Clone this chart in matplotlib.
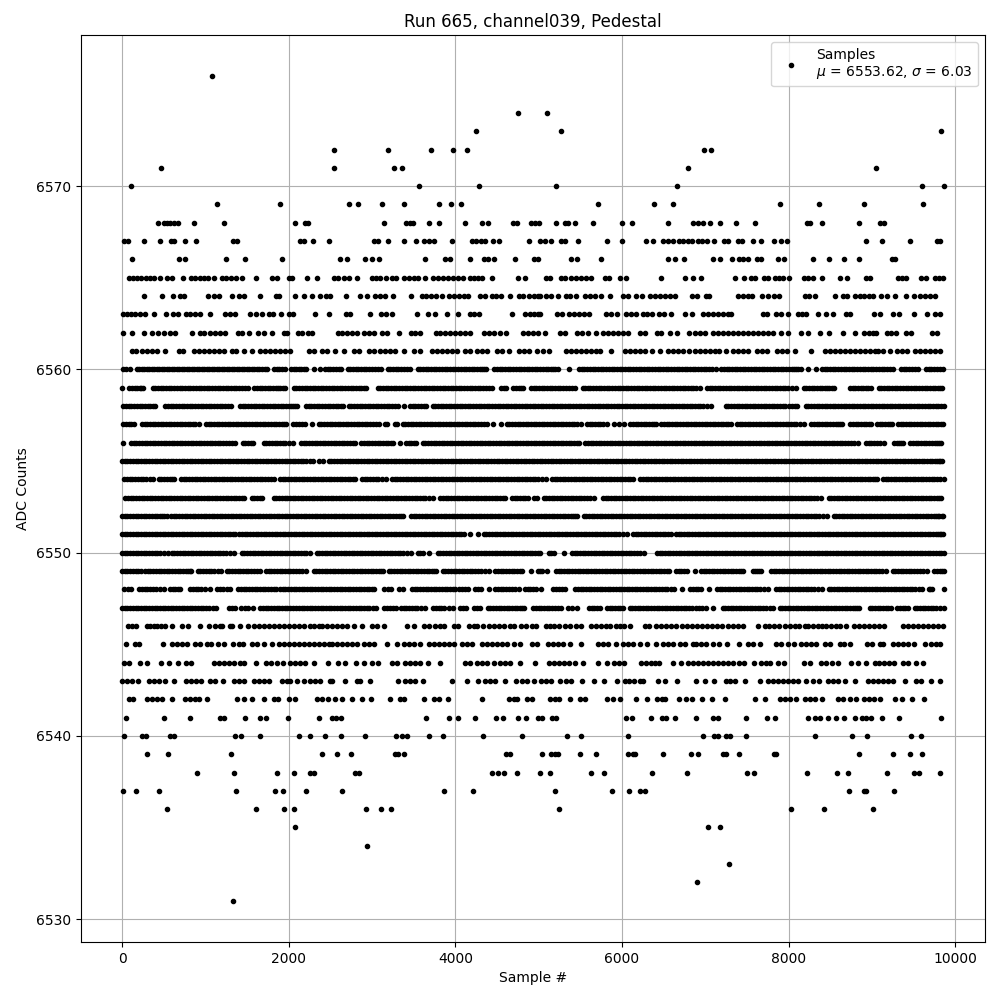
import matplotlib
matplotlib.use("Agg")
import matplotlib.pyplot as plt

x_6576 = [1076]
x_6574 = [4748, 5100]
x_6573 = [4244, 5268, 9828]
x_6572 = [2540, 3188, 3704, 3968, 4136, 6984, 7068]
x_6571 = [464, 2540, 3260, 3356, 6792, 9048]
x_6570 = [104, 3560, 4280, 5208, 6660, 9600, 9864]
x_6569 = [1136, 1892, 2720, 2828, 3116, 3380, 3804, 3944, 4064, 5712, 6384, 6612, 7896, 8364, 8904, 9612]
x_6568 = [428, 500, 540, 580, 628, 676, 860, 1220, 2076, 2192, 2232, 3140, 3404, 3452, 3492, 3680, 3804, 4112, 4316, 4388, 4688, 4736, 4904, 4952, 5004, 5208, 5316, 5352, 5436, 5652, 6000, 6120, 6552, 6852, 6912, 6972, 7056, 7176, 7368, 7596, 8224, 8252, 8400, 8844, 9092, 9140]
x_6567 = [20, 68, 260, 452, 588, 628, 752, 884, 1328, 1376, 2140, 2188, 2288, 2480, 3028, 3076, 3188, 3380, 3524, 3620, 3680, 3740, 3956, 4200, 4248, 4308, 4360, 4456, 4528, 4880, 5020, 5076, 5148, 5268, 5316, 5472, 5820, 6000, 6288, 6372, 6492, 6552, 6612, 6684, 6732, 6792, 6840, 6912, 6960, 7020, 7104, 7224, 7272, 7392, 7440, 7572, 7668, 7824, 7908, 7980, 8928, 9120, 9456, 9780, 9816]
x_6566 = [116, 680, 752, 1244, 1472, 1916, 2612, 2700, 2912, 2996, 3080, 3632, 3872, 3932, 4172, 4340, 4388, 4460, 4712, 4940, 4988, 5388, 5460, 5748, 6552, 6636, 6744, 7092, 7176, 7320, 7404, 7452, 7512, 7620, 7668, 7872, 7944, 8292, 8484, 8664, 8844, 9240, 9272]
x_6565 = [80, 128, 180, 228, 288, 340, 388, 452, 540, 596, 728, 824, 872, 940, 988, 1028, 1108, 1196, 1244, 1304, 1364, 1436, 1612, 1800, 1856, 2000, 2036, 2216, 2336, 2540, 2588, 2660, 2720, 2816, 2996, 3044, 3092, 3164, 3236, 3284, 3380, 3440, 3500, 3548, 3632, 3728, 3788, 3848, 3908, 3968, 4028, 4092, 4172, 4220, 4268, 4316, 4436, 4748, 4832, 5092, 5140, 5268, 5316, 5388, 5452, 5512, 5572, 5632, 5796, 5844, 5976, 6048, 6468, 6756, 6852, 6948, 7356, 7464, 7548, 7596, 7704, 7752, 7836, 7884, 7932, 8004, 8184, 8232, 8292, 8400, 8616, 8700, 8928, 8972, 9312, 9364, 9412, 9588, 9644, 9756, 9804, 9852]
x_6564 = [260, 476, 612, 700, 748, 1028, 1100, 1160, 1316, 1400, 1460, 1652, 1848, 1888, 2072, 2184, 2280, 2372, 2452, 2500, 2684, 2852, 2940, 3036, 3092, 3152, 3248, 3468, 3596, 3644, 3708, 3764, 3836, 3920, 3980, 4040, 4100, 4152, 4300, 4360, 4440, 4488, 4544, 4652, 4760, 4812, 4880, 4940, 4988, 5012, 5092, 5152, 5232, 5324, 5380, 5448, 5552, 5612, 5672, 5752, 5856, 6012, 6072, 6164, 6236, 6332, 6392, 6452, 6512, 6572, 6632, 6840, 6900, 7004, 7044, 7392, 7452, 7512, 7564, 7680, 7752, 7824, 7884, 8200, 8244, 8316, 8556, 8652, 8700, 8792, 8852, 8904, 8964, 9012, 9108, 9180, 9276, 9404, 9504, 9572, 9632, 9692, 9752]
x_6563 = [12, 60, 108, 160, 220, 280, 380, 524, 612, 672, 764, 820, 880, 932, 1052, 1240, 1300, 1360, 1540, 1612, 1680, 1760, 1808, 1908, 2000, 2048, 2312, 2480, 2692, 2740, 2972, 3108, 3164, 3240, 3544, 3668, 3760, 3900, 4028, 4172, 4228, 4280, 4676, 4832, 4892, 4940, 4988, 5012, 5220, 5280, 5364, 5420, 5484, 5544, 5604, 5808, 5872, 5940, 6044, 6112, 6172, 6252, 6300, 6360, 6444, 6500, 6588, 6756, 6840, 6972, 7032, 7092, 7152, 7212, 7272, 7312, 7692, 7740, 7848, 7908, 7992, 8112, 8160, 8208, 8352, 8448, 8532, 8688, 8736, 9024, 9092, 9252, 9324, 9504, 9660, 9756, 9816]
x_6562 = [8, 120, 260, 360, 428, 500, 572, 636, 836, 932, 988, 1052, 1120, 1180, 1240, 1396, 1436, 1520, 1628, 1700, 1800, 1940, 1980, 2108, 2156, 2228, 2280, 2588, 2644, 2700, 2760, 2820, 2900, 2960, 3020, 3120, 3180, 3320, 3468, 3520, 3580, 3764, 3820, 3880, 3940, 4000, 4060, 4120, 4180, 4340, 4400, 4460, 4540, 4612, 4812, 4876, 4932, 4988, 5076, 5260, 5312, 5460, 5520, 5596, 5688, 5772, 5832, 5892, 5952, 6012, 6072, 6216, 6280, 6420, 6472, 6576, 6660, 6804, 6872, 6932, 6992, 7092, 7152, 7212, 7272, 7332, 7392, 7452, 7512, 7572, 7632, 7692, 7752, 7812, 7908, 7992, 8152, 8232, 8372, 8484, 8652, 8796, 8904, 8964, 9012, 9052, 9180, 9232, 9284, 9404, 9464, 9720, 9780]
x_6561 = [120, 168, 240, 300, 360, 420, 516, 680, 728, 860, 920, 980, 1040, 1100, 1160, 1220, 1320, 1368, 1460, 1556, 1652, 1720, 1772, 1840, 1900, 1960, 2020, 2240, 2300, 2400, 2460, 2560, 2660, 2780, 2840, 2960, 3020, 3100, 3160, 3220, 3280, 3380, 3500, 3580, 3720, 3780, 3840, 3900, 3960, 4020, 4120, 4180, 4260, 4320, 4380, 4500, 4560, 4640, 4760, 4820, 4880, 4980, 5052, 5124, 5332, 5392, 5452, 5512, 5572, 5632, 5692, 5740, 5868, 6032, 6092, 6152, 6212, 6272, 6360, 6456, 6552, 6612, 6672, 6732, 6804, 6872, 6932, 6992, 7052, 7112, 7164, 7248, 7332, 7392, 7452, 7512, 7620, 7680, 7740, 7860, 7920, 7980, 8076, 8268, 8436, 8492, 8552, 8612, 8672, 8732, 8792, 8852, 8912, 8972, 9032, 9072, 9132, 9216, 9300, 9360, 9420, 9516, 9572, 9632, 9692, 9752, 9812]

x_6560 = [16, 92, 180, 236, 300, 356, 420, 476, 540, 596, 660, 716, 780, 836, 900, 956, 1020, 1076, 1140, 1196, 1260, 1316, 1380, 1436, 1500, 1556, 1620, 1676, 1744, 1824, 1888, 1952, 2028, 2090, 2150, 2212, 2300, 2372, 2436, 2500, 2566, 2632, 2708, 2770, 2836, 2900, 2966, 3040, 3112, 3188, 3250, 3316, 3380, 3452, 3548, 3610, 3676, 3740, 3806, 3870, 3936, 4000, 4066, 4130, 4196, 4260, 4316, 4372, 4468, 4530, 4596, 4660, 4726, 4790, 4856, 4920, 4986, 5050, 5116, 5170, 5232, 5364, 5488, 5550, 5616, 5680, 5746, 5810, 5876, 5940, 6006, 6070, 6136, 6200, 6266, 6330, 6396, 6460, 6526, 6590, 6656, 6720, 6786, 6850, 6916, 6980, 7046, 7124, 7192, 7256, 7320, 7386, 7450, 7516, 7580, 7646, 7710, 7776, 7840, 7906, 7970, 8036, 8090, 8144, 8232, 8324, 8400, 8466, 8530, 8596, 8660, 8726, 8790, 8856, 8920, 8986, 9050, 9116, 9180, 9256, 9348, 9410, 9480, 9552, 9648, 9712, 9780, 9856]
x_6560_more = [50, 208, 268, 328, 388, 448, 508, 568, 628, 688, 748, 808, 868, 928, 988, 1048, 1108, 1168, 1228, 1288, 1348, 1408, 1468, 1528, 1588, 1648, 1710, 1856, 1920, 2060, 2120, 2180, 2468, 2532, 2600, 2738, 2802, 2868, 2932, 3004, 3076, 3220, 3284, 3348, 3416, 3580, 3642, 3708, 3772, 3838, 3902, 3968, 4032, 4098, 4162, 4228, 4290, 4344, 4498, 4562, 4628, 4692, 4758, 4822, 4888, 4952, 5018, 5084, 5144, 5200, 5518, 5582, 5648, 5712, 5778, 5842, 5908, 5972, 6038, 6102, 6168, 6232, 6298, 6362, 6428, 6492, 6558, 6622, 6688, 6752, 6818, 6882, 6948, 7012, 7084, 7224, 7288, 7352, 7418, 7482, 7548, 7612, 7678, 7742, 7808, 7872, 7938, 8002, 8062, 8116, 8432, 8498, 8562, 8628, 8692, 8758, 8822, 8888, 8952, 9018, 9082, 9148, 9216, 9380, 9444, 9516, 9680, 9746, 9818]
x_6559 = [4, 88, 150, 210, 252, 368, 430, 496, 560, 626, 690, 756, 820, 886, 950, 1016, 1080, 1146, 1210, 1276, 1340, 1406, 1470, 1512, 1588, 1650, 1716, 1780, 1846, 1900, 1952, 2060, 2124, 2190, 2254, 2320, 2384, 2450, 2514, 2580, 2644, 2710, 2774, 2840, 2932, 3068, 3130, 3196, 3260, 3326, 3390, 3456, 3520, 3586, 3650, 3716, 3780, 3846, 3910, 3976, 4040, 4106, 4170, 4236, 4300, 4366, 4440, 4548, 4612, 4696, 4760, 4812, 4908, 4970, 5036, 5100, 5166, 5230, 5296, 5360, 5432, 5528, 5590, 5656, 5720, 5786, 5850, 5916, 5980, 6046, 6110, 6176, 6240, 6306, 6370, 6436, 6500, 6566, 6630, 6696, 6760, 6826, 6892, 6932, 7020, 7084, 7150, 7214, 7280, 7344, 7410, 7474, 7540, 7604, 7670, 7734, 7800, 7864, 7930, 7994, 8084, 8180, 8244, 8310, 8374, 8440, 8490, 8544, 8740, 8800, 8866, 8930, 8984, 9080, 9144, 9210, 9274, 9340, 9404, 9470, 9534, 9600, 9664, 9730, 9794, 9844]
x_6559_more = [120, 180, 232, 400, 462, 528, 592, 658, 722, 788, 852, 918, 982, 1048, 1112, 1178, 1242, 1308, 1372, 1438, 1620, 1682, 1748, 1812, 1872, 1926, 2092, 2156, 2222, 2286, 2352, 2416, 2482, 2546, 2612, 2676, 2742, 2806, 2870, 2904, 3100, 3162, 3228, 3292, 3358, 3422, 3488, 3552, 3618, 3682, 3748, 3812, 3878, 3942, 4008, 4072, 4138, 4202, 4268, 4332, 4402, 4580, 4728, 4786, 4940, 5002, 5068, 5132, 5198, 5262, 5328, 5396, 5558, 5622, 5688, 5752, 5818, 5882, 5948, 6012, 6078, 6142, 6208, 6272, 6338, 6402, 6468, 6532, 6598, 6662, 6728, 6792, 6858, 7052, 7116, 7182, 7246, 7312, 7376, 7442, 7506, 7572, 7636, 7702, 7766, 7832, 7896, 7962, 8040, 8212, 8276, 8342, 8406, 8464, 8516, 8770, 8832, 8898, 8956, 9112, 9176, 9242, 9306, 9372, 9436, 9502, 9566, 9632, 9696, 9762, 9820]
x_6558 = [16, 80, 146, 210, 276, 340, 400, 520, 584, 650, 714, 780, 844, 910, 974, 1040, 1104, 1170, 1234, 1304, 1416, 1480, 1546, 1610, 1676, 1740, 1806, 1870, 1936, 2000, 2050, 2104, 2208, 2270, 2336, 2400, 2466, 2530, 2596, 2652, 2720, 2784, 2850, 2914, 2980, 3044, 3110, 3174, 3240, 3312, 3380, 3456, 3520, 3590, 3652, 3728, 3790, 3856, 3920, 3986, 4050, 4116, 4180, 4246, 4310, 4376, 4440, 4506, 4570, 4636, 4700, 4766, 4830, 4896, 4960, 5026, 5090, 5156, 5220, 5286, 5350, 5416, 5480, 5546, 5610, 5676, 5740, 5806, 5870, 5936, 6000, 6066, 6130, 6196, 6260, 6326, 6390, 6456, 6520, 6586, 6650, 6716, 6780, 6846, 6910, 6976, 7064, 7248, 7310, 7376, 7440, 7506, 7570, 7636, 7700, 7766, 7830, 7896, 7960, 8040, 8104, 8208, 8270, 8336, 8400, 8466, 8530, 8596, 8660, 8726, 8790, 8856, 8920, 8986, 9050, 9116, 9180, 9246, 9310, 9376, 9440, 9506, 9570, 9636, 9700, 9766, 9830, 9864]
x_6558_more = [48, 112, 178, 242, 308, 370, 552, 616, 682, 746, 812, 876, 942, 1006, 1072, 1136, 1202, 1268, 1448, 1512, 1578, 1642, 1708, 1772, 1838, 1902, 1968, 2024, 2076, 2238, 2302, 2368, 2432, 2498, 2562, 2624, 2752, 2816, 2882, 2946, 3012, 3076, 3142, 3206, 3276, 3488, 3554, 3620, 3760, 3822, 3888, 3952, 4018, 4082, 4148, 4212, 4278, 4342, 4408, 4472, 4538, 4602, 4668, 4732, 4798, 4862, 4928, 4992, 5058, 5122, 5188, 5252, 5318, 5382, 5448, 5512, 5578, 5642, 5708, 5772, 5838, 5902, 5968, 6032, 6098, 6162, 6228, 6292, 6358, 6422, 6488, 6552, 6618, 6682, 6748, 6812, 6878, 6942, 7020, 7278, 7342, 7408, 7472, 7538, 7602, 7668, 7732, 7798, 7862, 7928, 8000, 8072, 8238, 8302, 8368, 8432, 8498, 8562, 8628, 8692, 8758, 8822, 8888, 8952, 9018, 9082, 9148, 9212, 9278, 9342, 9408, 9472, 9538, 9602, 9668, 9732, 9798]
x_6557 = [16, 80, 144, 240, 300, 366, 430, 496, 560, 626, 690, 756, 820, 880, 920, 1008, 1070, 1136, 1200, 1266, 1330, 1396, 1460, 1526, 1590, 1656, 1720, 1786, 1850, 1916, 1964, 2048, 2124, 2200, 2276, 2360, 2424, 2490, 2554, 2620, 2684, 2750, 2814, 2880, 2944, 3010, 3080, 3150, 3180, 3276, 3300, 3368, 3430, 3496, 3560, 3626, 3690, 3756, 3820, 3886, 3950, 3984, 4048, 4110, 4176, 4240, 4306, 4384, 4456, 4544, 4616, 4680, 4746, 4810, 4876, 4940, 5006, 5070, 5136, 5200, 5266, 5330, 5396, 5460, 5504, 5580, 5644, 5710, 5774, 5824, 5908, 5964, 6020, 6100, 6164, 6230, 6294, 6360, 6404, 6472, 6536, 6602, 6666, 6732, 6796, 6862, 6926, 6992, 7056, 7122, 7186, 7252, 7304, 7380, 7444, 7510, 7574, 7640, 7704, 7770, 7834, 7900, 7964, 8030, 8094, 8184, 8272, 8336, 8402, 8466, 8532, 8596, 8644, 8740, 8804, 8870, 8934, 8984, 9060, 9124, 9190, 9244, 9312, 9376, 9442, 9506, 9572, 9636, 9702, 9766, 9832, 9856]
x_6557_more = [48, 112, 270, 332, 398, 462, 528, 592, 658, 722, 788, 850, 1040, 1102, 1168, 1232, 1298, 1362, 1428, 1492, 1558, 1622, 1688, 1752, 1818, 1882, 1940, 2086, 2162, 2392, 2456, 2522, 2586, 2652, 2716, 2782, 2846, 2912, 2976, 3044, 3400, 3462, 3528, 3592, 3658, 3722, 3788, 3852, 3918, 4016, 4078, 4142, 4208, 4272, 4344, 4648, 4712, 4778, 4842, 4908, 4972, 5038, 5102, 5168, 5232, 5298, 5362, 5428, 5612, 5676, 5742, 6132, 6196, 6262, 6326, 6382, 6504, 6568, 6634, 6698, 6764, 6828, 6894, 6958, 7024, 7088, 7154, 7218, 7278, 7412, 7476, 7542, 7606, 7672, 7736, 7802, 7866, 7932, 7996, 8062, 8140, 8304, 8368, 8434, 8498, 8564, 8620, 8772, 8836, 8902, 8960, 9092, 9156, 9216, 9344, 9408, 9474, 9538, 9604, 9668, 9734, 9798]
x_6556 = [12, 108, 172, 238, 302, 368, 432, 498, 562, 628, 692, 758, 822, 888, 952, 1018, 1082, 1148, 1212, 1278, 1360, 1448, 1510, 1572, 1700, 1764, 1830, 1894, 1960, 2052, 2148, 2212, 2278, 2342, 2408, 2472, 2538, 2602, 2668, 2732, 2800, 2872, 2936, 3002, 3066, 3132, 3196, 3252, 3332, 3408, 3470, 3532, 3608, 3672, 3738, 3802, 3868, 3932, 3998, 4062, 4128, 4192, 4258, 4322, 4388, 4452, 4518, 4582, 4648, 4712, 4778, 4842, 4908, 4972, 5038, 5102, 5168, 5232, 5298, 5362, 5428, 5484, 5560, 5624, 5690, 5754, 5820, 5884, 5950, 6014, 6080, 6144, 6210, 6274, 6340, 6404, 6470, 6534, 6600, 6664, 6730, 6794, 6860, 6924, 6990, 7054, 7120, 7184, 7250, 7314, 7380, 7444, 7510, 7574, 7640, 7704, 7770, 7834, 7900, 7964, 8030, 8094, 8160, 8224, 8290, 8354, 8420, 8484, 8550, 8614, 8680, 8744, 8832, 8928, 8992, 9058, 9144, 9268, 9330, 9376, 9460, 9524, 9590, 9654, 9720, 9784, 9832]
x_6556_more = [140, 204, 270, 334, 400, 464, 530, 594, 660, 724, 790, 854, 920, 984, 1050, 1114, 1180, 1244, 1320, 1480, 1542, 1732, 1798, 1862, 1928, 2006, 2180, 2244, 2310, 2374, 2440, 2504, 2570, 2634, 2700, 2766, 2904, 2968, 3034, 3098, 3164, 3224, 3438, 3500, 3640, 3704, 3770, 3834, 3900, 3964, 4030, 4094, 4160, 4224, 4290, 4354, 4420, 4484, 4550, 4614, 4680, 4744, 4810, 4874, 4940, 5004, 5070, 5134, 5200, 5264, 5330, 5394, 5456, 5592, 5656, 5722, 5786, 5852, 5916, 5982, 6046, 6112, 6176, 6242, 6306, 6372, 6436, 6502, 6566, 6632, 6696, 6762, 6826, 6892, 6956, 7022, 7086, 7152, 7216, 7282, 7346, 7412, 7476, 7542, 7606, 7672, 7736, 7802, 7866, 7932, 7996, 8062, 8126, 8192, 8256, 8322, 8386, 8452, 8516, 8582, 8646, 8712, 8790, 8960, 9024, 9100, 9298, 9350, 9492, 9556, 9622, 9686, 9752, 9808]
x_6555 = [0, 64, 130, 194, 260, 324, 390, 454, 520, 584, 650, 714, 780, 844, 910, 974, 1040, 1104, 1170, 1234, 1300, 1364, 1430, 1494, 1560, 1624, 1690, 1754, 1820, 1884, 1950, 2014, 2080, 2144, 2210, 2292, 2360, 2412, 2480, 2544, 2610, 2674, 2740, 2804, 2870, 2934, 3000, 3064, 3130, 3194, 3260, 3324, 3390, 3454, 3520, 3584, 3650, 3714, 3780, 3844, 3910, 3974, 4040, 4104, 4170, 4234, 4300, 4364, 4430, 4494, 4560, 4624, 4690, 4754, 4820, 4884, 4950, 5014, 5080, 5144, 5210, 5274, 5340, 5404, 5470, 5534, 5600, 5664, 5730, 5794, 5860, 5924, 5990, 6054, 6120, 6184, 6250, 6314, 6380, 6444, 6510, 6574, 6640, 6704, 6770, 6834, 6900, 6964, 7030, 7094, 7160, 7224, 7290, 7354, 7420, 7484, 7550, 7614, 7680, 7744, 7810, 7874, 7940, 8004, 8070, 8134, 8200, 8264, 8330, 8394, 8460, 8524, 8590, 8654, 8720, 8784, 8850, 8914, 8980, 9044, 9110, 9174, 9240, 9304, 9370, 9434, 9500, 9564, 9630, 9694, 9760, 9800, 9840]
x_6555_more = [32, 96, 162, 226, 292, 356, 422, 486, 552, 616, 682, 746, 812, 876, 942, 1006, 1072, 1136, 1202, 1266, 1332, 1396, 1462, 1526, 1592, 1656, 1722, 1786, 1852, 1916, 1982, 2046, 2112, 2176, 2250, 2512, 2576, 2642, 2706, 2772, 2836, 2902, 2966, 3032, 3096, 3162, 3226, 3292, 3356, 3422, 3486, 3552, 3616, 3682, 3746, 3812, 3876, 3942, 4006, 4072, 4136, 4202, 4266, 4332, 4396, 4462, 4526, 4592, 4656, 4722, 4786, 4852, 4916, 4982, 5046, 5112, 5176, 5242, 5306, 5372, 5436, 5502, 5566, 5632, 5696, 5762, 5826, 5892, 5956, 6022, 6086, 6152, 6216, 6282, 6346, 6412, 6476, 6542, 6606, 6672, 6736, 6802, 6866, 6932, 6996, 7062, 7126, 7192, 7256, 7322, 7386, 7452, 7516, 7582, 7646, 7712, 7776, 7842, 7906, 7972, 8036, 8102, 8166, 8232, 8296, 8362, 8426, 8492, 8556, 8622, 8686, 8752, 8816, 8882, 8946, 9012, 9076, 9142, 9206, 9272, 9336, 9402, 9466, 9532, 9596, 9662, 9726, 9780, 9820]
x_6554 = [28, 92, 158, 222, 288, 372, 440, 504, 570, 624, 708, 772, 838, 902, 968, 1032, 1098, 1162, 1228, 1292, 1358, 1422, 1488, 1552, 1618, 1682, 1748, 1824, 1896, 1960, 2026, 2090, 2156, 2220, 2286, 2350, 2416, 2480, 2546, 2610, 2676, 2740, 2800, 2880, 2944, 3010, 3074, 3172, 3240, 3304, 3370, 3434, 3500, 3564, 3630, 3694, 3760, 3824, 3890, 3954, 4020, 4084, 4150, 4214, 4280, 4344, 4410, 4474, 4540, 4604, 4670, 4734, 4800, 4864, 4930, 4994, 5084, 5160, 5224, 5290, 5354, 5420, 5484, 5550, 5614, 5680, 5744, 5810, 5874, 5940, 6004, 6070, 6136, 6220, 6284, 6350, 6414, 6480, 6544, 6610, 6674, 6740, 6804, 6870, 6934, 7000, 7064, 7130, 7194, 7260, 7324, 7390, 7454, 7520, 7584, 7650, 7714, 7780, 7844, 7910, 7974, 8040, 8104, 8170, 8234, 8300, 8364, 8430, 8494, 8560, 8624, 8690, 8754, 8820, 8884, 8950, 9014, 9064, 9132, 9196, 9262, 9326, 9392, 9456, 9522, 9586, 9652, 9716, 9782, 9864]
x_6554_more = [60, 124, 190, 254, 330, 472, 536, 598, 740, 804, 870, 934, 1000, 1064, 1130, 1194, 1260, 1324, 1390, 1454, 1520, 1584, 1650, 1714, 1786, 1928, 1992, 2058, 2122, 2188, 2252, 2318, 2382, 2448, 2512, 2578, 2642, 2708, 2770, 2912, 2976, 3042, 3120, 3272, 3336, 3402, 3466, 3532, 3596, 3662, 3726, 3792, 3856, 3922, 3986, 4052, 4116, 4182, 4246, 4312, 4376, 4442, 4506, 4572, 4636, 4702, 4766, 4832, 4896, 4962, 5040, 5192, 5256, 5322, 5386, 5452, 5516, 5582, 5646, 5712, 5776, 5842, 5906, 5972, 6036, 6102, 6252, 6316, 6382, 6446, 6512, 6576, 6642, 6706, 6772, 6836, 6902, 6966, 7032, 7096, 7162, 7226, 7292, 7356, 7422, 7486, 7552, 7616, 7682, 7746, 7812, 7876, 7942, 8006, 8072, 8136, 8202, 8266, 8332, 8396, 8462, 8526, 8592, 8656, 8722, 8786, 8852, 8916, 8982, 9040, 9164, 9228, 9294, 9358, 9424, 9488, 9554, 9618, 9684, 9748, 9820]
x_6553 = [40, 104, 170, 234, 300, 364, 430, 494, 560, 624, 690, 754, 820, 884, 950, 1014, 1080, 1144, 1210, 1274, 1340, 1404, 1464, 1556, 1620, 1680, 1820, 1884, 1950, 2014, 2080, 2144, 2210, 2274, 2340, 2404, 2470, 2534, 2600, 2664, 2730, 2794, 2860, 2924, 2990, 3054, 3120, 3184, 3250, 3314, 3380, 3444, 3510, 3574, 3640, 3732, 3820, 3884, 3950, 4014, 4080, 4144, 4210, 4274, 4340, 4404, 4470, 4534, 4600, 4680, 4744, 4810, 4872, 4940, 4980, 5060, 5124, 5190, 5254, 5320, 5384, 5450, 5514, 5580, 5664, 5772, 5836, 5902, 5966, 6032, 6096, 6162, 6226, 6292, 6356, 6422, 6486, 6552, 6616, 6682, 6746, 6812, 6876, 6942, 7006, 7072, 7136, 7202, 7266, 7332, 7396, 7462, 7526, 7592, 7656, 7722, 7786, 7852, 7916, 7982, 8046, 8112, 8176, 8242, 8306, 8384, 8480, 8544, 8610, 8674, 8740, 8804, 8870, 8934, 9000, 9064, 9130, 9194, 9260, 9324, 9390, 9454, 9520, 9584, 9650, 9714, 9780, 9832]
x_6553_more = [72, 136, 202, 266, 332, 396, 462, 526, 592, 656, 722, 786, 852, 916, 982, 1046, 1112, 1176, 1242, 1306, 1372, 1434, 1588, 1650, 1852, 1916, 1982, 2046, 2112, 2176, 2242, 2306, 2372, 2436, 2502, 2566, 2632, 2696, 2762, 2826, 2892, 2956, 3022, 3086, 3152, 3216, 3282, 3346, 3412, 3476, 3542, 3606, 3680, 3852, 3916, 3982, 4046, 4112, 4176, 4242, 4306, 4372, 4436, 4502, 4566, 4712, 4776, 4840, 5092, 5156, 5222, 5286, 5352, 5416, 5482, 5546, 5620, 5804, 5868, 5934, 5998, 6064, 6128, 6194, 6258, 6324, 6388, 6454, 6518, 6584, 6648, 6714, 6778, 6844, 6908, 6974, 7038, 7104, 7168, 7234, 7298, 7364, 7428, 7494, 7558, 7624, 7688, 7754, 7818, 7884, 7948, 8014, 8078, 8144, 8208, 8274, 8344, 8512, 8576, 8642, 8706, 8772, 8836, 8902, 8966, 9032, 9096, 9162, 9226, 9292, 9356, 9422, 9486, 9552, 9616, 9682, 9746, 9806]
x_6552 = [0, 64, 130, 194, 260, 324, 390, 454, 500, 540, 588, 652, 718, 782, 848, 912, 978, 1042, 1108, 1172, 1238, 1302, 1368, 1432, 1498, 1562, 1628, 1692, 1758, 1822, 1888, 1952, 2018, 2082, 2148, 2212, 2278, 2342, 2408, 2472, 2538, 2602, 2668, 2732, 2798, 2862, 2928, 2992, 3058, 3122, 3188, 3252, 3318, 3372, 3468, 3532, 3598, 3662, 3728, 3792, 3858, 3922, 3988, 4052, 4118, 4182, 4248, 4312, 4378, 4442, 4508, 4572, 4638, 4702, 4768, 4832, 4898, 4962, 5028, 5092, 5158, 5222, 5288, 5352, 5418, 5464, 5540, 5604, 5670, 5734, 5800, 5864, 5930, 5994, 6060, 6124, 6190, 6254, 6320, 6384, 6450, 6514, 6580, 6644, 6710, 6774, 6840, 6904, 6970, 7034, 7100, 7164, 7230, 7294, 7360, 7424, 7490, 7554, 7620, 7684, 7750, 7814, 7880, 7944, 8010, 8074, 8140, 8204, 8270, 8334, 8412, 8460, 8540, 8604, 8670, 8734, 8800, 8864, 8930, 8994, 9060, 9124, 9190, 9254, 9320, 9384, 9450, 9514, 9580, 9644, 9710, 9774, 9810, 9856]
x_6552_more = [32, 96, 162, 226, 292, 356, 422, 476, 620, 684, 750, 814, 880, 944, 1010, 1074, 1140, 1204, 1270, 1334, 1400, 1464, 1530, 1594, 1660, 1724, 1790, 1854, 1920, 1984, 2050, 2114, 2180, 2244, 2310, 2374, 2440, 2504, 2570, 2634, 2700, 2764, 2830, 2894, 2960, 3024, 3090, 3154, 3220, 3284, 3344, 3500, 3564, 3630, 3694, 3760, 3824, 3890, 3954, 4020, 4084, 4150, 4214, 4280, 4344, 4410, 4474, 4540, 4604, 4670, 4734, 4800, 4864, 4930, 4994, 5060, 5124, 5190, 5254, 5320, 5384, 5440, 5572, 5636, 5702, 5766, 5832, 5896, 5962, 6026, 6092, 6156, 6222, 6286, 6352, 6416, 6482, 6546, 6612, 6676, 6742, 6806, 6872, 6936, 7002, 7066, 7132, 7196, 7262, 7326, 7392, 7456, 7522, 7586, 7652, 7716, 7782, 7846, 7912, 7976, 8042, 8106, 8172, 8236, 8302, 8370, 8572, 8636, 8702, 8766, 8832, 8896, 8962, 9026, 9092, 9156, 9222, 9286, 9352, 9416, 9482, 9546, 9612, 9676, 9742, 9790, 9836]
x_6551 = [0, 64, 130, 194, 260, 324, 390, 454, 520, 584, 650, 714, 780, 844, 910, 974, 1040, 1104, 1170, 1234, 1300, 1360, 1408, 1472, 1538, 1602, 1668, 1732, 1798, 1862, 1928, 1992, 2058, 2122, 2188, 2252, 2318, 2382, 2448, 2512, 2578, 2642, 2708, 2772, 2838, 2902, 2968, 3032, 3098, 3162, 3228, 3292, 3358, 3422, 3488, 3552, 3618, 3682, 3748, 3812, 3878, 3942, 4008, 4072, 4172, 4268, 4340, 4404, 4470, 4534, 4600, 4664, 4730, 4794, 4860, 4924, 4990, 5054, 5120, 5184, 5250, 5314, 5380, 5444, 5510, 5574, 5640, 5704, 5770, 5834, 5900, 5964, 6064, 6132, 6196, 6262, 6326, 6392, 6456, 6522, 6584, 6648, 6712, 6778, 6842, 6908, 6972, 7038, 7102, 7168, 7232, 7298, 7362, 7428, 7492, 7558, 7622, 7688, 7752, 7818, 7882, 7948, 8012, 8078, 8142, 8208, 8272, 8338, 8402, 8468, 8532, 8598, 8662, 8728, 8792, 8858, 8922, 8988, 9052, 9118, 9182, 9248, 9312, 9378, 9442, 9508, 9572, 9638, 9702, 9768, 9812, 9856]
x_6551_more = [32, 96, 162, 226, 292, 356, 422, 486, 552, 616, 682, 746, 812, 876, 942, 1006, 1072, 1136, 1202, 1266, 1330, 1440, 1504, 1570, 1634, 1700, 1764, 1830, 1894, 1960, 2024, 2090, 2154, 2220, 2284, 2350, 2414, 2480, 2544, 2610, 2674, 2740, 2804, 2870, 2934, 3000, 3064, 3130, 3194, 3260, 3324, 3390, 3454, 3520, 3584, 3650, 3714, 3780, 3844, 3910, 3974, 4040, 4104, 4372, 4436, 4502, 4566, 4632, 4696, 4762, 4826, 4892, 4956, 5022, 5086, 5152, 5216, 5282, 5346, 5412, 5476, 5542, 5606, 5672, 5736, 5802, 5866, 5932, 6014, 6164, 6228, 6294, 6358, 6424, 6488, 6554, 6680, 6744, 6810, 6874, 6940, 7004, 7070, 7134, 7200, 7264, 7330, 7394, 7460, 7524, 7590, 7654, 7720, 7784, 7850, 7914, 7980, 8044, 8110, 8174, 8240, 8304, 8370, 8434, 8500, 8564, 8630, 8694, 8760, 8824, 8890, 8954, 9020, 9084, 9150, 9214, 9280, 9344, 9410, 9474, 9540, 9604, 9670, 9734, 9790, 9834]
x_6550 = [0, 64, 130, 194, 260, 324, 390, 454, 550, 596, 660, 726, 790, 856, 920, 986, 1050, 1116, 1180, 1246, 1344, 1436, 1500, 1566, 1630, 1696, 1760, 1826, 1890, 1952, 2016, 2080, 2146, 2210, 2252, 2336, 2400, 2464, 2528, 2592, 2658, 2722, 2788, 2852, 2918, 2982, 3048, 3112, 3178, 3242, 3308, 3372, 3472, 3548, 3612, 3680, 3788, 3852, 3918, 3982, 4048, 4112, 4178, 4242, 4308, 4372, 4438, 4502, 4568, 4632, 4698, 4762, 4828, 4892, 4958, 5016, 5120, 5184, 5300, 5400, 5464, 5530, 5594, 5660, 5724, 5790, 5854, 5920, 5984, 6050, 6114, 6180, 6264, 6420, 6484, 6550, 6614, 6680, 6744, 6810, 6874, 6940, 7004, 7070, 7134, 7200, 7264, 7330, 7394, 7460, 7524, 7590, 7654, 7720, 7784, 7850, 7914, 7980, 8044, 8110, 8174, 8240, 8304, 8370, 8434, 8500, 8564, 8630, 8694, 8760, 8824, 8890, 8954, 9020, 9084, 9150, 9214, 9280, 9344, 9410, 9474, 9540, 9604, 9670, 9734, 9800, 9864]
x_6550_more = [32, 96, 162, 226, 292, 356, 422, 500, 628, 692, 758, 822, 888, 952, 1018, 1082, 1148, 1212, 1296, 1468, 1532, 1598, 1662, 1728, 1792, 1858, 1920, 1984, 2048, 2112, 2178, 2368, 2432, 2496, 2560, 2624, 2690, 2754, 2820, 2884, 2950, 3014, 3080, 3144, 3210, 3274, 3340, 3420, 3580, 3820, 3884, 3950, 4014, 4080, 4144, 4210, 4274, 4340, 4404, 4470, 4534, 4600, 4664, 4730, 4794, 4860, 4924, 4988, 5152, 5432, 5496, 5562, 5626, 5692, 5756, 5822, 5886, 5952, 6016, 6082, 6146, 6220, 6452, 6516, 6582, 6646, 6712, 6776, 6842, 6906, 6972, 7036, 7102, 7166, 7232, 7296, 7362, 7426, 7492, 7556, 7622, 7686, 7752, 7816, 7882, 7946, 8012, 8076, 8142, 8206, 8272, 8336, 8402, 8466, 8532, 8596, 8662, 8726, 8792, 8856, 8922, 8986, 9052, 9116, 9182, 9246, 9312, 9376, 9442, 9506, 9572, 9636, 9702, 9766, 9832]
x_6549 = [0, 64, 130, 194, 228, 276, 340, 406, 470, 536, 600, 666, 730, 796, 832, 908, 972, 1038, 1102, 1192, 1256, 1320, 1386, 1450, 1516, 1580, 1652, 1728, 1792, 1858, 1922, 1988, 2052, 2118, 2212, 2300, 2364, 2430, 2494, 2560, 2624, 2690, 2754, 2820, 2884, 2950, 3014, 3080, 3132, 3200, 3264, 3330, 3394, 3460, 3524, 3590, 3654, 3720, 3772, 3848, 3912, 3978, 4042, 4108, 4172, 4238, 4302, 4400, 4480, 4544, 4610, 4674, 4740, 4804, 4904, 4988, 5044, 5104, 5208, 5272, 5338, 5402, 5468, 5532, 5598, 5662, 5728, 5792, 5858, 5922, 5988, 6052, 6118, 6182, 6248, 6312, 6378, 6442, 6508, 6564, 6648, 6712, 6784, 6880, 6948, 7012, 7078, 7142, 7208, 7272, 7338, 7402, 7456, 7568, 7620, 7672, 7788, 7852, 7918, 7982, 8048, 8112, 8178, 8242, 8308, 8372, 8438, 8502, 8568, 8632, 8698, 8762, 8828, 8892, 8958, 9022, 9088, 9164, 9248, 9312, 9378, 9442, 9508, 9572, 9664, 9748, 9812, 9864]
x_6549_more = [32, 96, 162, 308, 372, 438, 502, 568, 632, 698, 762, 814, 940, 1004, 1070, 1146, 1288, 1352, 1418, 1482, 1548, 1616, 1760, 1824, 1890, 1954, 2020, 2084, 2165, 2332, 2396, 2462, 2526, 2592, 2656, 2722, 2786, 2852, 2916, 2982, 3046, 3106, 3232, 3296, 3362, 3426, 3492, 3556, 3622, 3686, 3746, 3880, 3944, 4010, 4074, 4140, 4204, 4270, 4350, 4512, 4576, 4642, 4706, 4772, 5016, 5240, 5304, 5370, 5434, 5500, 5564, 5630, 5694, 5760, 5824, 5890, 5954, 6020, 6084, 6150, 6214, 6280, 6344, 6410, 6474, 6536, 6680, 6748, 6980, 7044, 7110, 7174, 7240, 7304, 7370, 7430, 7596, 7644, 7820, 7884, 7950, 8014, 8080, 8144, 8210, 8274, 8340, 8404, 8470, 8534, 8600, 8664, 8730, 8794, 8860, 8924, 8990, 9054, 9126, 9280, 9344, 9410, 9474, 9540, 9610, 9780, 9840]
x_6548 = [28, 112, 208, 272, 338, 402, 504, 580, 640, 700, 820, 884, 950, 1052, 1136, 1210, 1300, 1396, 1460, 1526, 1590, 1656, 1720, 1786, 1852, 1928, 1992, 2058, 2122, 2188, 2252, 2318, 2382, 2448, 2512, 2578, 2642, 2708, 2772, 2838, 2902, 2968, 3024, 3148, 3232, 3328, 3372, 3480, 3544, 3610, 3674, 3740, 3804, 3870, 3934, 4000, 4080, 4148, 4230, 4312, 4400, 4480, 4544, 4610, 4674, 4760, 4836, 4900, 4966, 5032, 5168, 5240, 5312, 5440, 5504, 5570, 5634, 5700, 5764, 5830, 5894, 5960, 6024, 6090, 6154, 6220, 6284, 6350, 6414, 6480, 6544, 6624, 6720, 6820, 6884, 6952, 7040, 7140, 7204, 7270, 7334, 7400, 7464, 7530, 7594, 7660, 7752, 7848, 7912, 7978, 8042, 8108, 8172, 8238, 8302, 8404, 8480, 8544, 8610, 8674, 8740, 8804, 8870, 8934, 9000, 9064, 9130, 9194, 9260, 9324, 9390, 9454, 9520, 9604, 9680, 9724, 9864]
x_6548_more = [70, 240, 304, 370, 454, 612, 670, 852, 916, 1000, 1172, 1256, 1428, 1492, 1558, 1622, 1688, 1752, 1818, 1890, 1960, 2024, 2090, 2154, 2220, 2284, 2350, 2414, 2480, 2544, 2610, 2674, 2740, 2804, 2870, 2934, 2996, 3190, 3512, 3576, 3642, 3706, 3772, 3836, 3902, 3966, 4040, 4114, 4270, 4512, 4576, 4642, 4716, 4868, 4932, 5204, 5276, 5472, 5536, 5602, 5666, 5732, 5796, 5862, 5926, 5992, 6056, 6122, 6186, 6252, 6316, 6382, 6446, 6512, 6584, 6852, 6918, 7172, 7236, 7302, 7366, 7432, 7496, 7562, 7626, 7706, 7880, 7944, 8010, 8074, 8140, 8204, 8270, 8350, 8512, 8576, 8642, 8706, 8772, 8836, 8902, 8966, 9032, 9096, 9162, 9226, 9292, 9356, 9422, 9486, 9560, 9702]
x_6547 = [0, 64, 130, 194, 260, 324, 390, 454, 520, 584, 650, 714, 780, 844, 910, 974, 1040, 1132, 1280, 1352, 1428, 1512, 1576, 1660, 1724, 1790, 1854, 1920, 1984, 2050, 2120, 2188, 2252, 2318, 2382, 2448, 2512, 2578, 2642, 2708, 2772, 2838, 2902, 2968, 3052, 3148, 3220, 3292, 3348, 3412, 3478, 3542, 3640, 3736, 3800, 3866, 3972, 4056, 4124, 4220, 4300, 4388, 4452, 4518, 4582, 4648, 4712, 4778, 4824, 4936, 5000, 5066, 5130, 5196, 5272, 5352, 5456, 5600, 5670, 5736, 5820, 5884, 5950, 6016, 6092, 6156, 6222, 6286, 6352, 6416, 6482, 6546, 6612, 6676, 6742, 6806, 6884, 6928, 7004, 7096, 7208, 7272, 7338, 7402, 7468, 7532, 7598, 7662, 7728, 7816, 7892, 7956, 8022, 8086, 8152, 8216, 8282, 8346, 8412, 8476, 8542, 8606, 8672, 8736, 8802, 8844, 8972, 9036, 9102, 9166, 9232, 9304, 9368, 9432, 9512, 9576, 9642, 9706, 9772, 9864]
x_6547_more = [32, 96, 162, 226, 292, 356, 422, 486, 552, 616, 682, 746, 812, 876, 942, 1006, 1086, 1316, 1470, 1692, 1756, 1822, 1886, 1952, 2016, 2084, 2154, 2220, 2284, 2350, 2414, 2480, 2544, 2610, 2674, 2740, 2804, 2870, 2934, 3010, 3184, 3256, 3380, 3444, 3510, 3590, 3768, 3832, 3920, 4090, 4260, 4420, 4484, 4550, 4614, 4680, 4744, 4800, 4968, 5032, 5098, 5162, 5234, 5400, 5636, 5702, 5852, 5916, 5982, 6124, 6188, 6254, 6318, 6384, 6448, 6514, 6578, 6644, 6708, 6774, 6844, 6966, 7240, 7304, 7370, 7434, 7500, 7564, 7630, 7694, 7772, 7924, 7988, 8054, 8118, 8184, 8248, 8314, 8378, 8444, 8508, 8574, 8638, 8704, 8768, 8824, 9004, 9068, 9134, 9198, 9336, 9400, 9544, 9608, 9674, 9738, 9818]

x_6546 = [68, 120, 164, 300, 340, 380, 420, 470, 520, 596, 724, 796, 932, 1040, 1120, 1180, 1200, 1292, 1324, 1412, 1508, 1580, 1640, 1700, 1760, 1820, 1880, 1940, 2000, 2060, 2120, 2180, 2250, 2300, 2360, 2400, 2460, 2520, 2580, 2640, 2700, 2780, 2876, 3000, 3060, 3148, 3420, 3500, 3620, 3680, 3760, 3812, 3868, 3980, 4028, 4160, 4220, 4260, 4328, 4400, 4460, 4520, 4580, 4660, 4700, 4788, 4850, 4920, 4972, 5092, 5140, 5190, 5250, 5312, 5372, 5444, 5512, 5632, 5690, 5750, 5804, 5852, 5924, 5980, 6020, 6100, 6272, 6330, 6404, 6472, 6530, 6590, 6650, 6720, 6780, 6840, 6900, 6960, 7020, 7080, 7140, 7200, 7272, 7332, 7392, 7452, 7632, 7712, 7770, 7830, 7890, 7952, 8012, 8072, 8130, 8192, 8232, 8292, 8350, 8404, 8452, 8512, 8570, 8620, 8692, 8780, 8840, 8900, 8960, 9020, 9080, 9150, 9372, 9430, 9490, 9550, 9610, 9670, 9730, 9790, 9850]
x_6545 = [44, 160, 200, 492, 600, 660, 720, 780, 880, 940, 1020, 1068, 1148, 1228, 1328, 1400, 1452, 1560, 1620, 1700, 1800, 1880, 1940, 2000, 2060, 2120, 2180, 2240, 2300, 2360, 2420, 2480, 2520, 2580, 2640, 2700, 2760, 2820, 2900, 2960, 3020, 3180, 3300, 3380, 3440, 3500, 3580, 3680, 3740, 3800, 3860, 3920, 3980, 4080, 4140, 4200, 4320, 4380, 4440, 4500, 4560, 4620, 4700, 4772, 4920, 4980, 5112, 5170, 5230, 5290, 5372, 5508, 5712, 5770, 5830, 5932, 6012, 6070, 6130, 6212, 6300, 6404, 6492, 6552, 6612, 6700, 6760, 6852, 6892, 6950, 7010, 7092, 7164, 7256, 7404, 7512, 7570, 7652, 7852, 7910, 7992, 8064, 8152, 8210, 8270, 8330, 8432, 8492, 8612, 8660, 8732, 8940, 8998, 9092, 9132, 9252, 9312, 9370, 9430, 9510, 9640, 9712, 9770, 9812]
x_6544 = [20, 80, 220, 300, 468, 560, 668, 772, 828, 1100, 1160, 1220, 1280, 1340, 1420, 1460, 1612, 1728, 1790, 1860, 1928, 2020, 2080, 2140, 2200, 2300, 2468, 2588, 2676, 2804, 2900, 3000, 3068, 3240, 3300, 3400, 3460, 3520, 3580, 3676, 3820, 4120, 4180, 4260, 4320, 4380, 4460, 4540, 4600, 4660, 4780, 4956, 5124, 5184, 5240, 5300, 5370, 5432, 5528, 5712, 5820, 5900, 5960, 6020, 6232, 6290, 6344, 6392, 6444, 6608, 6712, 6792, 6850, 6910, 6970, 7030, 7090, 7150, 7210, 7272, 7332, 7404, 7464, 7584, 7668, 7730, 7772, 7872, 7940, 8184, 8256, 8392, 8452, 8524, 8592, 8752, 8832, 8924, 9032, 9090, 9150, 9210, 9270, 9372, 9432, 9532, 9612]
x_6543 = [0, 60, 120, 196, 320, 380, 440, 520, 620, 772, 832, 892, 952, 1056, 1112, 1208, 1340, 1400, 1460, 1580, 1640, 1700, 1760, 1920, 1980, 2020, 2100, 2188, 2260, 2320, 2380, 2500, 2520, 2680, 2820, 2860, 2972, 3308, 3400, 3460, 3520, 3608, 3956, 4140, 4268, 4360, 4420, 4480, 4600, 4732, 4800, 4860, 4940, 5032, 5090, 5152, 5252, 5332, 5392, 5520, 5660, 5780, 5940, 6032, 6090, 6150, 6212, 6252, 6432, 6512, 6664, 6892, 7000, 7104, 7244, 7300, 7360, 7472, 7660, 7752, 7812, 7870, 7932, 7992, 8050, 8110, 8212, 8292, 8364, 8472, 8530, 8590, 8680, 8792, 8952, 9010, 9070, 9130, 9190, 9250, 9392, 9532, 9590, 9712, 9820]
x_6542 = [80, 128, 300, 360, 420, 480, 600, 752, 810, 880, 920, 1016, 1376, 1460, 1556, 1700, 1820, 1872, 2000, 2080, 2340, 2400, 2470, 2560, 2640, 2760, 2880, 2984, 3212, 3340, 3388, 3620, 3740, 3800, 3908, 4316, 4640, 4700, 4740, 4860, 4920, 5140, 5200, 5244, 5376, 5492, 5552, 5820, 5892, 5980, 6168, 6300, 6420, 6480, 6516, 6680, 6772, 6840, 6960, 7080, 7236, 7592, 7712, 7892, 7952, 8020, 8084, 8192, 8252, 8312, 8400, 8592, 8650, 8732, 8808, 8904, 8960, 9020, 9092, 9276, 9360, 9480, 9624]
x_6541 = [44, 500, 812, 1180, 1220, 1472, 1652, 1724, 1988, 2360, 2520, 2572, 2628, 3644, 3920, 4028, 4232, 4484, 4568, 4748, 4844, 4996, 5036, 5156, 5212, 6048, 6120, 6348, 6484, 6524, 6636, 6888, 7092, 7156, 7488, 7740, 7836, 8232, 8316, 8376, 8472, 8568, 8664, 8796, 8876, 8924, 8988, 9120, 9324, 9828]
x_6540 = [20, 240, 288, 572, 628, 1360, 1424, 1652, 2120, 2252, 2432, 2624, 2912, 3284, 3356, 3416, 3680, 3848, 4328, 4796, 5340, 5508, 6072, 6972, 7100, 7148, 7252, 7292, 7488, 8316, 8760, 8940, 9468, 9588]
x_6539 = [296, 548, 1304, 2396, 2576, 2744, 3272, 3308, 3380, 4608, 4652, 5040, 5148, 5196, 5232, 5496, 5688, 6072, 6132, 6160, 6492, 6828, 6912, 7212, 7252, 7404, 7824, 7852, 8844, 9252, 9456, 9600]
x_6538 = [896, 1340, 1856, 2060, 2260, 2300, 2792, 2840, 4436, 4508, 4584, 4736, 5016, 5136, 5628, 5784, 6360, 6780, 7500, 7584, 8220, 8580, 8712, 9180, 9500, 9564, 9816]
x_6537 = [8, 164, 440, 1364, 1832, 1928, 2204, 2636, 3860, 4208, 5196, 5880, 6084, 6216, 6276, 8724, 8900, 8932, 9264]
x_6536 = [536, 1604, 1940, 2060, 2924, 3104, 3224, 5244, 8028, 8424, 9012]
x_6535 = [2072, 7032, 7176]
x_6534 = [2936]
x_6533 = [7284]
x_6532 = [6900]
x_6531 = [1328]

rows = {
    6576: x_6576, 6574: x_6574, 6573: x_6573, 6572: x_6572, 6571: x_6571, 6570: x_6570,
    6569: x_6569, 6568: x_6568, 6567: x_6567, 6566: x_6566, 6565: x_6565, 6564: x_6564,
    6563: x_6563, 6562: x_6562, 6561: x_6561,
    6560: x_6560 + x_6560_more, 6559: x_6559 + x_6559_more, 6558: x_6558 + x_6558_more,
    6557: x_6557 + x_6557_more, 6556: x_6556 + x_6556_more, 6555: x_6555 + x_6555_more,
    6554: x_6554 + x_6554_more, 6553: x_6553 + x_6553_more, 6552: x_6552 + x_6552_more,
    6551: x_6551 + x_6551_more, 6550: x_6550 + x_6550_more, 6549: x_6549 + x_6549_more,
    6548: x_6548 + x_6548_more, 6547: x_6547 + x_6547_more, 6546: x_6546,
    6545: x_6545, 6544: x_6544, 6543: x_6543, 6542: x_6542, 6541: x_6541, 6540: x_6540,
    6539: x_6539, 6538: x_6538, 6537: x_6537, 6536: x_6536, 6535: x_6535, 6534: x_6534,
    6533: x_6533, 6532: x_6532, 6531: x_6531,
}

xs, ys = [], []
for level, positions in rows.items():
    xs.extend(positions)
    ys.extend([level] * len(positions))

fig, ax = plt.subplots(figsize=(10, 10), dpi=100)
ax.plot(xs, ys, "k.", label="Samples\n$\\mu$ = 6553.62, $\\sigma$ = 6.03")
ax.set_title("Run 665, channel039, Pedestal")
ax.set_xlabel("Sample #")
ax.set_ylabel("ADC Counts")
ax.ticklabel_format(useOffset=False, style="plain", axis="y")
ax.grid(True)
ax.legend(loc="upper right")
fig.subplots_adjust(left=0.081, right=0.985, top=0.965, bottom=0.058)
fig.savefig("out.png", dpi=100)
